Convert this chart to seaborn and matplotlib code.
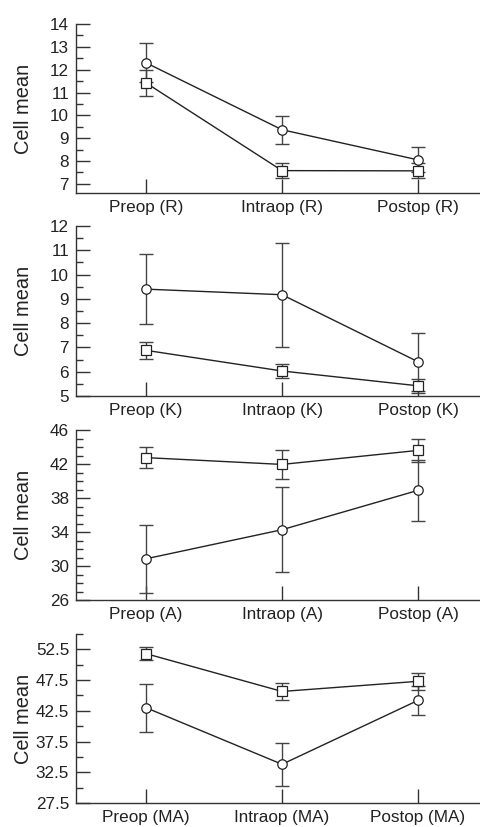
import numpy as np
import pandas as pd
import matplotlib
matplotlib.use("Agg")
import matplotlib.pyplot as plt
import seaborn as sns
from matplotlib.ticker import FixedLocator

sns.set_theme(style="white")
plt.rcParams["font.family"] = ["Liberation Sans", "DejaVu Sans"]

phases = ["Preop", "Intraop", "Postop"]
panel_codes = ["R", "K", "A", "MA"]

circle_R = [12.30, 9.37, 8.05]
circle_R_err = [0.85, 0.62, 0.55]
square_R = [11.42, 7.58, 7.57]
square_R_err = [0.56, 0.32, 0.33]

circle_K = [9.40, 9.17, 6.41]
circle_K_err = [1.43, 2.15, 1.20]
square_K = [6.88, 6.03, 5.42]
square_K_err = [0.35, 0.30, 0.30]

circle_A = [30.85, 34.27, 38.90]
circle_A_err = [4.00, 5.00, 3.60]
square_A = [42.75, 41.95, 43.60]
square_A_err = [1.20, 1.67, 1.35]

circle_MA = [43.00, 33.80, 44.20]
circle_MA_err = [3.90, 3.50, 2.40]
square_MA = [51.80, 45.65, 47.30]
square_MA_err = [1.10, 1.45, 1.35]

circles = [circle_R, circle_K, circle_A, circle_MA]
circle_errs = [circle_R_err, circle_K_err, circle_A_err, circle_MA_err]
squares = [square_R, square_K, square_A, square_MA]
square_errs = [square_R_err, square_K_err, square_A_err, square_MA_err]

ylims = [(6.6, 14), (5, 12), (26, 46), (27.5, 55)]
majors = [np.arange(7, 14.1, 1), np.arange(5, 12.1, 1),
          np.arange(26, 46.1, 4), np.arange(27.5, 52.6, 5)]
minors = [np.arange(7, 14.1, 0.5), np.arange(5, 12.1, 0.5),
          np.arange(26, 46.1, 1), np.arange(27.5, 55.1, 2.5)]
spine_tops = [14, 12, 46, 55]

boxes = [(24, 193), (226, 396), (430, 600), (634, 803)]

W, H = 480, 827
fig = plt.figure(figsize=(W / 100, H / 100), dpi=100)

ink = "#222222"
tick_color = "#333333"
err_color = "#444444"

for i, code in enumerate(panel_codes):
    top, bot = boxes[i]
    ax = fig.add_axes([76 / W, 1 - bot / H, 408 / W, (bot - top) / H])
    x = np.arange(len(phases))
    df = pd.DataFrame({
        "x": np.concatenate([x, x]),
        "value": circles[i] + squares[i],
        "series": ["circle"] * 3 + ["square"] * 3,
    })
    ax.errorbar(x, circles[i], yerr=circle_errs[i], fmt="none", ecolor=err_color,
                elinewidth=1.0, capsize=5, capthick=1.0, zorder=1)
    ax.errorbar(x, squares[i], yerr=square_errs[i], fmt="none", ecolor=err_color,
                elinewidth=1.0, capsize=5, capthick=1.0, zorder=1)
    sns.lineplot(data=df, x="x", y="value", style="series",
                 markers={"circle": "o", "square": "s"}, dashes=False,
                 color=ink, linewidth=1.0, markersize=6.8,
                 markerfacecolor="white", markeredgecolor=ink,
                 markeredgewidth=0.9, legend=False, ax=ax, zorder=3)

    ax.set_xlim(-0.515, 2.485)
    ax.set_ylim(*ylims[i])
    ax.yaxis.set_major_locator(FixedLocator(majors[i]))
    ax.yaxis.set_minor_locator(FixedLocator(minors[i]))
    if i == 3:
        ax.set_yticklabels([f"{v:.1f}" for v in majors[i]])
    else:
        ax.set_yticklabels([f"{v:g}" for v in majors[i]])
    ax.set_xticks(x)
    ax.set_xticklabels([f"{p} ({code})" for p in phases])

    for s in ["top", "right"]:
        ax.spines[s].set_visible(False)
    for s in ["left", "bottom"]:
        ax.spines[s].set_color(tick_color)
        ax.spines[s].set_linewidth(1.0)
    ax.spines["left"].set_bounds(ylims[i][0], spine_tops[i])

    ax.tick_params(axis="both", which="both", left=True, bottom=True,
                   direction="in", color=tick_color, width=1.0)
    ax.tick_params(axis="both", which="major", length=10,
                   labelsize=12.3, labelcolor=ink, pad=5)
    ax.tick_params(axis="y", which="minor", length=5)
    ax.tick_params(axis="x", which="minor", bottom=False)
    ax.set_xlabel("")
    ax.set_ylabel("Cell mean", fontsize=14.4, color=ink)
    ax.yaxis.set_label_coords(-0.105, 0.5)
    ax.grid(False)
    ax.set_facecolor("white")

fig.savefig("out.png", dpi=100, facecolor="white")
